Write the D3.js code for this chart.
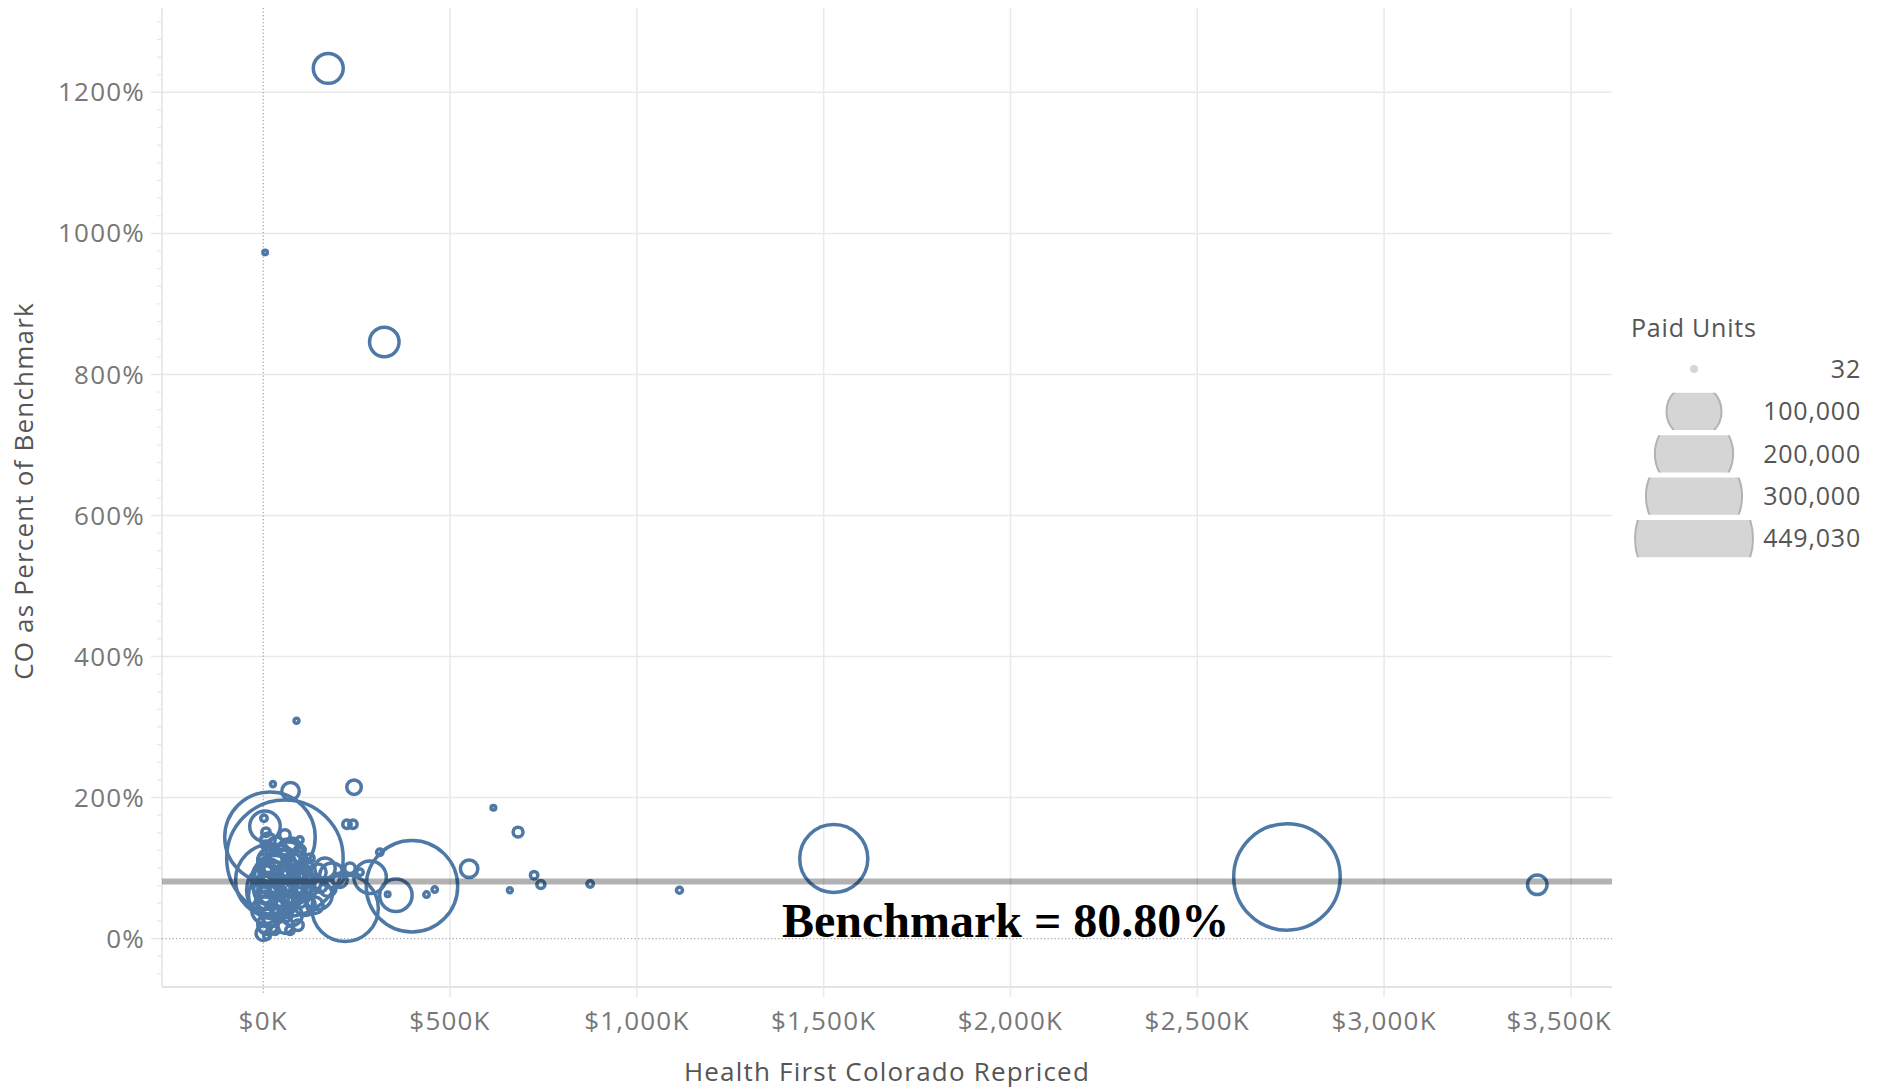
<!DOCTYPE html>
<html>
<head>
<meta charset="utf-8">
<script src="https://cdn.jsdelivr.net/npm/d3@7"></script>
<style>
  body { margin: 0; background: #fff; }
  text { font-family: "Open Sans", sans-serif; }
</style>
</head>
<body>
<svg id="chart"></svg>
<script>
// values: repriced amount ($K), percent of benchmark, paid units
const repricedK = [
  174, 324, 5, 89,
  616, 682, 551, 725, 743, 660, 875, 1114, 437, 459, 1527, 2740, 3410,
  398, 219, 286, 355, 333, 243, 224, 240, 312, 26, 73,
  18, 58, 23, 31, 39, 23,
  4.6, 1.9, 7.2, 0, 0.5, 12.6, 17.9, 44.7, 31.3, 58.1, 12.6, 71.5, 84.9, 23.3, 50, 4.6,
  71.5, 98.2, 111.6, 92.9, 1.9, 1.9, 34, 66.1, 17.9, 50, 39.4, 76.8, 125, 146.4, 165.2,
  183.9, 205.3, 173.2, 146.4, 111.6, 232.1, 258.9, 98.2, 125, 17.9, 58.1, 92.9, 1.9, 7.2,
  66.1, 98, 58,
  7.8, 12.6, 7.8, 17.9, 34, 52.7, 79.5, 63.4, 36.7, 88.3, 106.3, 23.3, 60.8, 1.9,
  44.7, 77.6, 28.6, 98.2, 125, 50, 77.6, 12.6, 31.3, 9.9, 71.5, 151.7, 138.4
];
const pctBenchmark = [
  1234, 846, 973, 309,
  185.5, 151, 99, 89.8, 76.6, 68.5, 77.4, 68.5, 62.4, 69.5, 113.5, 87.4, 76.3,
  74.2, 43, 87, 61.4, 62.8, 214.6, 162, 162, 122.4, 219, 209,
  143.7, 113.9, 82.7, 68.5, 82.7, 61.4,
  159.3, 170.6, 150.8, 7.5, 14.6, 20.3, 110.4, 103.3, 89.2, 82.7, 68.5, 96.6, 75.6, 54.3, 47.2, 40.1,
  54.3, 89.8, 104, 64.2, 89.8, 61.4, 132.4, 128.1, 128.1, 68.5, 33, 33, 82.7, 94, 99.7,
  89.8, 82.7, 71.3, 61.4, 47.2, 99.7, 94, 125.2, 114, 26, 18.9, 18.9, 111, 132.4,
  111, 139.7, 146.8,
  103.3, 82.7, 54.3, 96.6, 111, 94, 82.7, 64.2, 47.2, 111, 72.8, 33, 33, 68.5,
  61.4, 96.6, 70.9, 54.3, 68.5, 125.2, 132.4, 139.5, 11.8, 3.3, 11.8, 75.6, 47.2
];
const paidUnits = [
  33000, 32100, 32, 300,
  100, 3620, 11800, 1790, 2210, 205, 1130, 880, 530, 530, 158600, 377000, 14600,
  280700, 151500, 38600, 38600, 32, 8140, 2500, 2500, 1130, 310, 11800,
  274800, 449030, 178900, 110800, 96200, 76300,
  34200, 1130, 2500, 8140, 2500, 16000, 22600, 38600, 58600, 26200, 30100, 16000, 48100, 38600, 22600, 26200,
  10500, 22600, 8140, 6010, 16000, 10500, 10500, 13200, 4140, 2510, 8140, 16000, 6010, 10500, 16000,
  22600, 8140, 10500, 30100, 16000, 4140, 1130, 4140, 2510, 6010, 10500, 4140, 6010, 2510,
  48100, 1130, 4140,
  10500, 8140, 13200, 19200, 8140, 10500, 8140, 16000, 10500, 13200, 10500, 16000, 6010, 6010,
  4140, 4140, 2510, 8140, 6010, 6010, 8140, 8140, 2510, 1130, 2510, 8140, 10500
];

const xTicks = [0, 500, 1000, 1500, 2000, 2500, 3000, 3500];
const yTicks = [0, 200, 400, 600, 800, 1000, 1200];
const legendValues = [32, 100000, 200000, 300000, 449030];
const benchmark = 80.8;

const config = {
  width: 1883, height: 1091,
  margin: { top: 8, left: 162, right: 271, bottom: 104 }
};
const width = config.width - config.margin.left - config.margin.right;
const height = config.height - config.margin.top - config.margin.bottom;

const svg = d3.select('#chart')
    .attr('width', config.width)
    .attr('height', config.height);

const chart = svg.append('g')
    .attr('transform', `translate(${config.margin.left},${config.margin.top})`);

const xScale = d3.scaleLinear().domain([-271, 3610]).range([0, width]);
const yScale = d3.scaleLinear().domain([-68.7, 1319.6]).range([height, 0]);
// outer radius of a mark (area grows linearly with paid units)
const sizeScale = d3.scaleRadial().domain([32, 449030]).range([4, 60]);
const markStroke = 3.5;

const gridColor = '#e9e9e9';

// minor ticks on y axis every 25%
chart.append('g')
  .selectAll('line')
  .data(d3.range(-50, 1301, 25))
  .join('line')
    .attr('x1', -5).attr('x2', 0)
    .attr('y1', d => yScale(d)).attr('y2', d => yScale(d))
    .attr('stroke', gridColor).attr('stroke-width', 1.2);

// horizontal gridlines
chart.append('g')
  .selectAll('line')
  .data(yTicks.filter(d => d !== 0))
  .join('line')
    .attr('x1', -11).attr('x2', width)
    .attr('y1', d => yScale(d)).attr('y2', d => yScale(d))
    .attr('stroke', gridColor).attr('stroke-width', 1.5);

// vertical gridlines
chart.append('g')
  .selectAll('line')
  .data(xTicks.filter(d => d !== 0))
  .join('line')
    .attr('x1', d => xScale(d)).attr('x2', d => xScale(d))
    .attr('y1', 0).attr('y2', height + 10)
    .attr('stroke', gridColor).attr('stroke-width', 1.5);

// axis lines
chart.append('line')
    .attr('x1', 0).attr('x2', 0).attr('y1', 0).attr('y2', height)
    .attr('stroke', '#e3e3e3').attr('stroke-width', 1.5);
chart.append('line')
    .attr('x1', 0).attr('x2', width).attr('y1', height).attr('y2', height)
    .attr('stroke', '#e3e3e3').attr('stroke-width', 2);

// zero lines (dotted)
chart.append('line')
    .attr('x1', -11).attr('x2', 0).attr('y1', yScale(0)).attr('y2', yScale(0))
    .attr('stroke', gridColor).attr('stroke-width', 1.5);
chart.append('line')
    .attr('x1', 0).attr('x2', width).attr('y1', yScale(0)).attr('y2', yScale(0))
    .attr('stroke', '#a8a8a8').attr('stroke-width', 1.3)
    .attr('stroke-dasharray', '1.3,2.2');
chart.append('line')
    .attr('x1', xScale(0)).attr('x2', xScale(0)).attr('y1', 0).attr('y2', height + 7)
    .attr('stroke', '#a8a8a8').attr('stroke-width', 1.3)
    .attr('stroke-dasharray', '1.3,2.2');

// tick labels
chart.append('g')
  .selectAll('text')
  .data(yTicks)
  .join('text')
    .attr('x', -17)
    .attr('y', d => yScale(d))
    .attr('dy', '0.35em')
    .attr('text-anchor', 'end')
    .style('font-size', '26px')
    .style('letter-spacing', '1.2px')
    .style('fill', '#777')
    .text(d => d + '%');

const fmt = d3.format(',');
const xLabels = chart.append('g')
  .selectAll('text')
  .data(xTicks)
  .join('text')
    .attr('x', d => xScale(d))
    .attr('y', height + 43)
    .attr('text-anchor', 'middle')
    .style('font-size', '26px')
    .style('letter-spacing', '1.2px')
    .style('fill', '#777')
    .text(d => '$' + fmt(d) + 'K');
// keep the last label inside the plot like Tableau does
xLabels.each(function(d) {
  const w = this.getComputedTextLength();
  if (xScale(d) + w / 2 > width) d3.select(this).attr('x', width - w / 2);
});

// axis titles
svg.append('text')
    .attr('x', config.margin.left + width / 2)
    .attr('y', 1081)
    .attr('text-anchor', 'middle')
    .style('font-size', '26px')
    .style('letter-spacing', '1.2px')
    .style('fill', '#555')
    .text('Health First Colorado Repriced');

svg.append('text')
    .attr('transform', 'translate(33,491) rotate(-90)')
    .attr('text-anchor', 'middle')
    .style('font-size', '26px')
    .style('letter-spacing', '1.2px')
    .style('fill', '#555')
    .text('CO as Percent of Benchmark');

// marks
const data = repricedK.map((d, i) => ({ x: d, y: pctBenchmark[i], units: paidUnits[i] }))
  .sort((a, b) => b.units - a.units);

chart.append('g')
  .selectAll('circle')
  .data(data)
  .join('circle')
    .attr('cx', d => xScale(d.x))
    .attr('cy', d => yScale(d.y))
    .attr('r', d => sizeScale(d.units) - markStroke / 2)
    .attr('fill', 'none')
    .attr('stroke', '#4e79a7')
    .attr('stroke-width', markStroke);

// benchmark reference line
chart.append('line')
    .attr('x1', 0).attr('x2', width)
    .attr('y1', yScale(benchmark)).attr('y2', yScale(benchmark))
    .attr('stroke', '#000').attr('stroke-opacity', 0.3)
    .attr('stroke-width', 6);

svg.append('text')
    .attr('x', 782)
    .attr('y', 937)
    .style('font-family', '"Liberation Serif", "Times New Roman", serif')
    .style('font-weight', 'bold')
    .style('font-size', '48px')
    .style('fill', '#000')
    .text('Benchmark = ' + benchmark.toFixed(2) + '%');

// size legend
const legend = svg.append('g').attr('transform', 'translate(1630,0)');
legend.append('text')
    .attr('x', 1).attr('y', 337)
    .style('font-size', '25px')
    .style('letter-spacing', '0.8px')
    .style('fill', '#555')
    .text('Paid Units');

const rowY = i => 369 + i * 42.4;
const defs = svg.append('defs');
legendValues.forEach((v, i) => {
  defs.append('clipPath').attr('id', 'lg' + i)
    .append('rect')
      .attr('x', 0).attr('width', 140)
      .attr('y', rowY(i) - 18.6).attr('height', 37.2);
});

const rows = legend.selectAll('g.row')
  .data(legendValues)
  .join('g')
    .attr('class', 'row');

rows.append('circle')
    .attr('clip-path', (d, i) => i === 0 ? null : `url(#lg${i})`)
    .attr('cx', 64)
    .attr('cy', (d, i) => rowY(i))
    .attr('r', d => d < 100 ? sizeScale(d) : sizeScale(d) - 1)
    .attr('fill', '#d5d5d5')
    .attr('stroke', (d, i) => i === 0 ? 'none' : '#b3b3b3')
    .attr('stroke-width', 2);

rows.append('text')
    .attr('x', 231)
    .attr('y', (d, i) => rowY(i))
    .attr('dy', '0.35em')
    .attr('text-anchor', 'end')
    .style('font-size', '25px')
    .style('letter-spacing', '0.8px')
    .style('fill', '#555')
    .text(d => fmt(d));
</script>
</body>
</html>
